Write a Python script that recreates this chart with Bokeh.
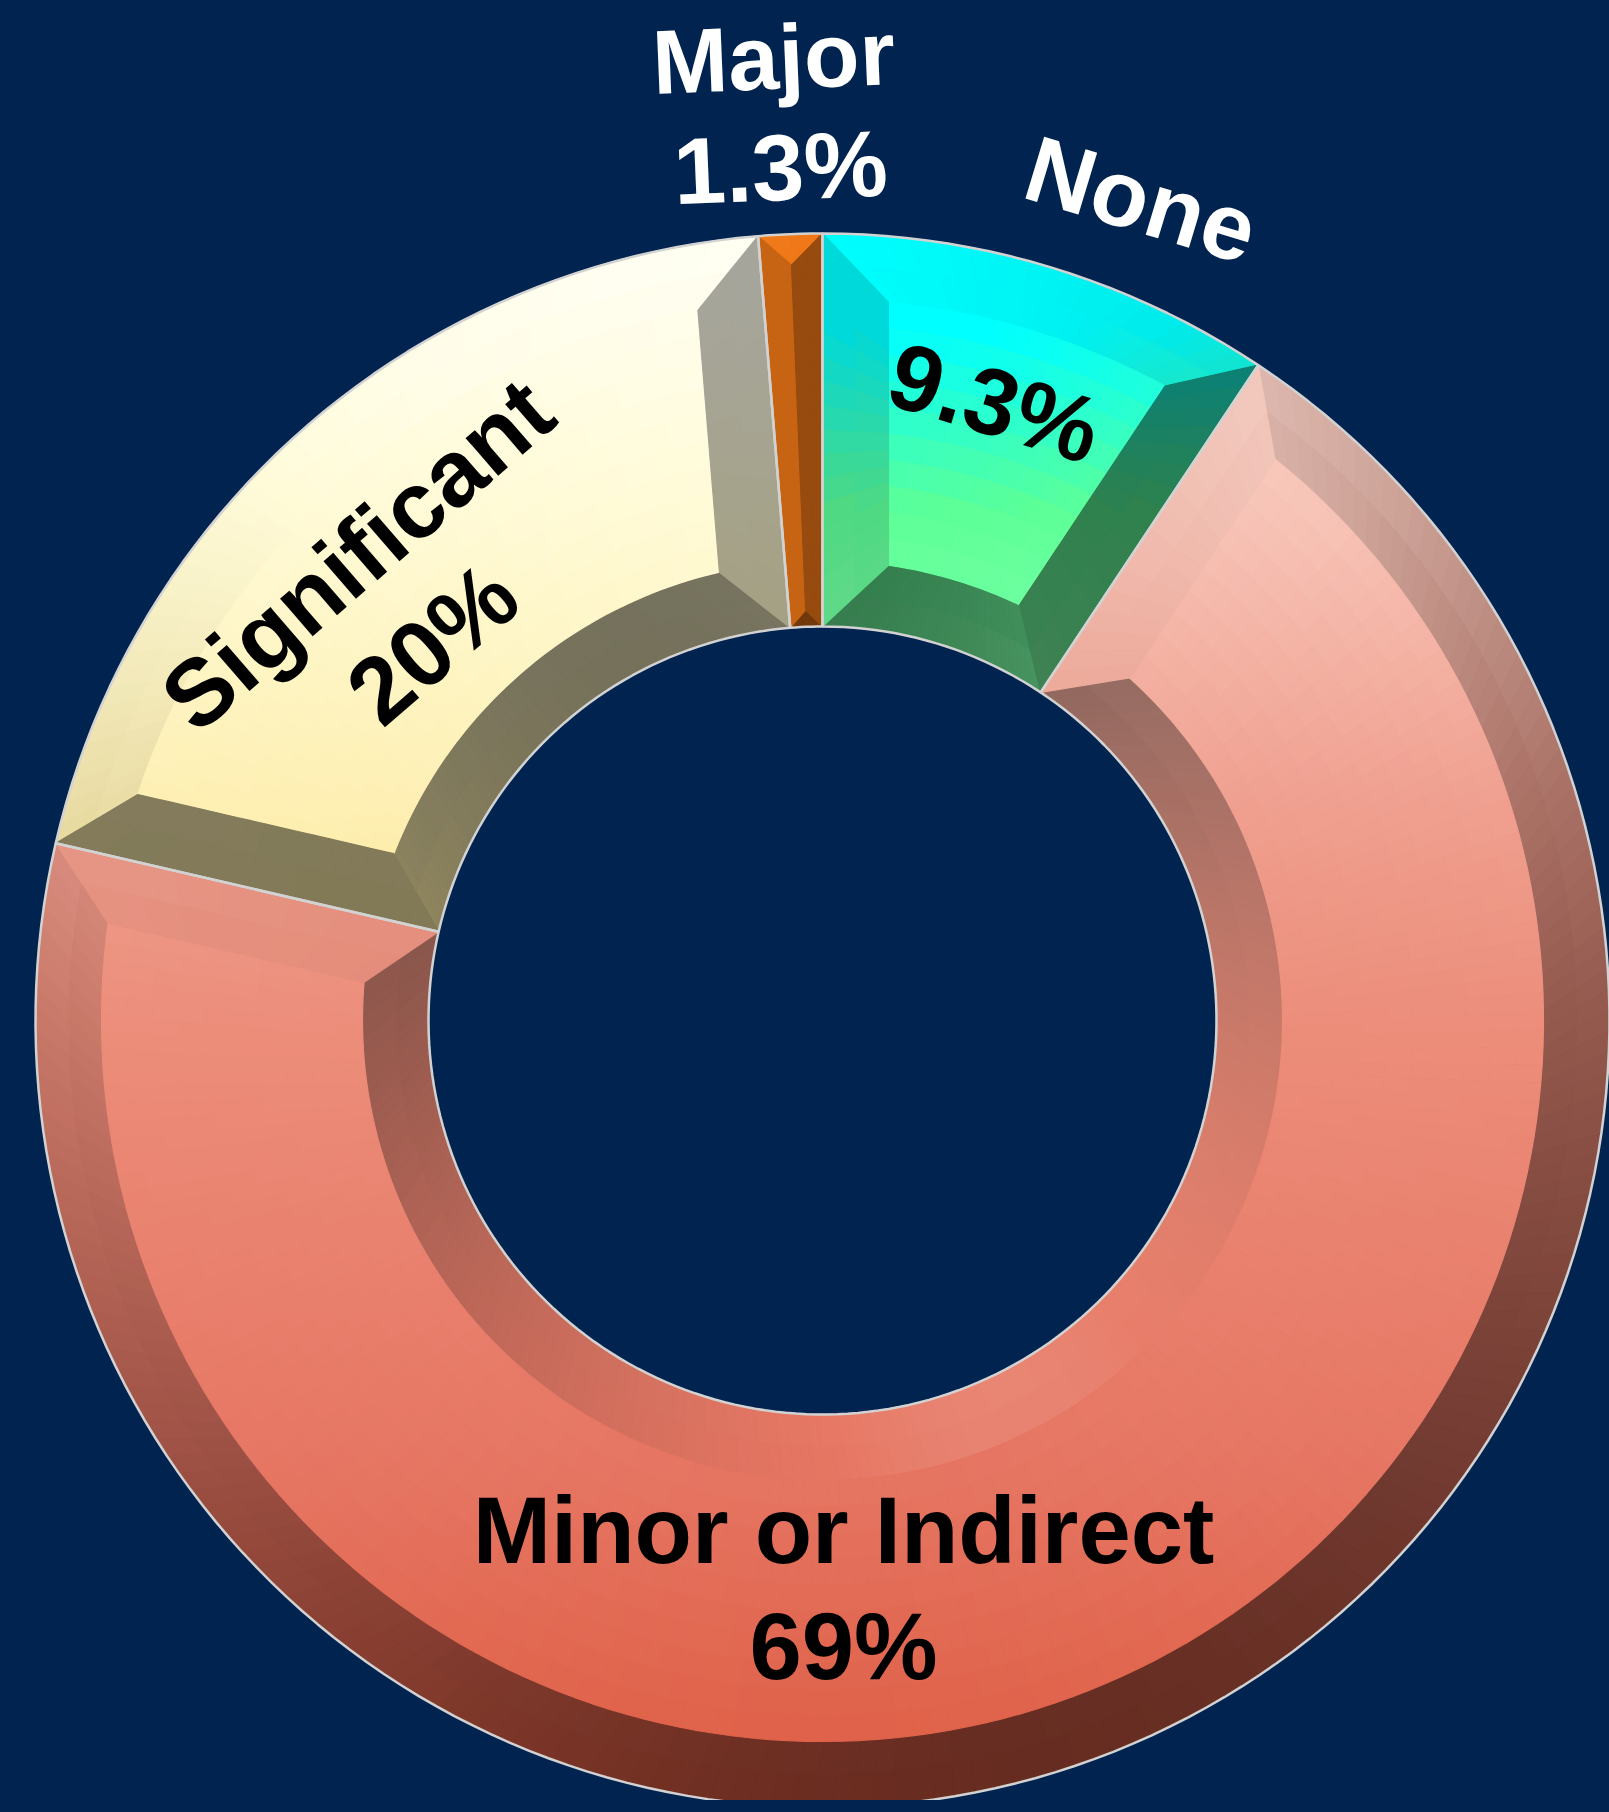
import numpy as np
from bokeh.plotting import figure
from bokeh.models import Range1d
from bokeh.embed import file_html
from bokeh.resources import INLINE
from bokeh.core.properties import value

# ---------------- data ----------------
categories = ["None", "Minor or Indirect", "Significant", "Major"]
shares = [9.3, 69.0, 20.0, 1.3]
pct_labels = ["9.3%", "69%", "20%", "1.3%"]

# face colour stops (page pixel y, colour) for each slice
face_stops = {
    "None": [(232, "#00FFFF"), (330, "#00FFFF"), (510, "#5CFF98"), (700, "#82FFA8")],
    "Minor or Indirect": [(300, "#FAD6CC"), (520, "#F7C3B6"), (800, "#F0A090"),
                          (1020, "#EC8E7B"), (1450, "#E67764"), (1810, "#DE5C42")],
    "Significant": [(230, "#FFFFF4"), (500, "#FFFBD8"), (930, "#FDEBA4")],
    "Major": [(0, "#F07818"), (2000, "#F07818")],
}

# ---------------- layout ----------------
PAGE_H = 1812
FIG_W, FIG_H = 1609, 1800
BG = "#002350"
CX, CY_PIX = 822.0, 1020.0
CY = PAGE_H - CY_PIX
R_OUT, R_IN, BEV = 787.0, 394.0, 66.0
LX, LY = -0.4, 0.92
ln = np.hypot(LX, LY)
LX, LY = LX / ln, LY / ln


def hex2rgb(h):
    h = h.lstrip("#")
    return np.array([int(h[i:i + 2], 16) for i in (0, 2, 4)], dtype=float)


def rgb2hex(c):
    c = np.clip(np.round(c), 0, 255).astype(int)
    return "#%02x%02x%02x" % tuple(c)


def face_color(name, ypix):
    st = face_stops[name]
    ys = [s[0] for s in st]
    cs = [hex2rgb(s[1]) for s in st]
    out = np.zeros(3)
    for k in range(3):
        out[k] = np.interp(ypix, ys, [c[k] for c in cs])
    return out


def shade(rgb, nx, ny):
    d = nx * LX + ny * LY
    f = 0.74 + 0.28 * d
    if f > 1.0:
        return rgb + (255 - rgb) * min(1.0, (f - 1.0) * 4)
    return rgb * f


def P(r, phi):
    return CX + r * np.sin(phi), CY + r * np.cos(phi)


p = figure(width=FIG_W, height=FIG_H, x_range=Range1d(0, FIG_W),
           y_range=Range1d(PAGE_H - FIG_H, PAGE_H),
           output_backend="svg", toolbar_location=None, min_border=0)
p.axis.visible = False
p.grid.visible = False
p.outline_line_color = None
p.background_fill_color = BG
p.border_fill_color = BG

xs_all, ys_all, col_all = [], [], []


def ruled(A, B, nt, ns, name, kind, nvec=None):
    t = np.linspace(0, 1, nt + 1)
    s = np.linspace(0, 1, ns + 1)
    Ax, Ay = A(t)
    Bx, By = B(t)
    X = Ax[:, None] * (1 - s) + Bx[:, None] * s
    Y = Ay[:, None] * (1 - s) + By[:, None] * s
    for i in range(nt):
        for j in range(ns):
            qx = [X[i, j], X[i + 1, j], X[i + 1, j + 1], X[i, j + 1]]
            qy = [Y[i, j], Y[i + 1, j], Y[i + 1, j + 1], Y[i, j + 1]]
            mx, my = np.mean(qx), np.mean(qy)
            base = face_color(name, PAGE_H - my)
            if kind == "face":
                c = base
            else:
                if kind == "outer":
                    ph = np.arctan2(mx - CX, my - CY)
                    nx, ny = np.sin(ph), np.cos(ph)
                elif kind == "inner":
                    ph = np.arctan2(mx - CX, my - CY)
                    nx, ny = -np.sin(ph), -np.cos(ph)
                else:
                    nx, ny = nvec
                c = shade(base, nx, ny)
            xs_all.append(qx)
            ys_all.append(qy)
            col_all.append(rgb2hex(c))


def lin(p0, p1):
    def f(t):
        return p0[0] + (p1[0] - p0[0]) * t, p0[1] + (p1[1] - p0[1]) * t
    return f


total = sum(shares)
bounds = np.concatenate([[0], np.cumsum(shares)]) / total * 2 * np.pi
outlines_x, outlines_y = [], []

for k, name in enumerate(categories):
    f0, f1 = bounds[k], bounds[k + 1]
    D = f1 - f0
    nt = max(6, int(np.degrees(D) / 1.5))
    ro_f, ri_f = R_OUT - BEV, R_IN + BEV
    do = np.arcsin(BEV / ro_f)
    di = np.arcsin(BEV / ri_f)
    if D > 2 * di:
        ruled(lambda t: P(R_OUT, f0 + t * D),
              lambda t: P(ro_f, f0 + do + t * (D - 2 * do)), nt, 2, name, "outer")
        ruled(lambda t: P(R_IN, f0 + t * D),
              lambda t: P(ri_f, f0 + di + t * (D - 2 * di)), nt, 2, name, "inner")
        ruled(lambda t: P(ro_f, f0 + do + t * (D - 2 * do)),
              lambda t: P(ri_f, f0 + di + t * (D - 2 * di)), nt, 10, name, "face")
        sa0, sa1 = P(R_OUT, f0), P(R_IN, f0)
        sb0, sb1 = P(ro_f, f0 + do), P(ri_f, f0 + di)
        ea0, ea1 = P(R_OUT, f1), P(R_IN, f1)
        eb0, eb1 = P(ro_f, f1 - do), P(ri_f, f1 - di)
    else:
        h = np.sin(D / 2)
        fm = (f0 + f1) / 2
        apo = P(R_OUT / (1 + h), fm)
        api = P(R_IN / (1 - h), fm)
        ruled(lambda t: P(R_OUT, f0 + t * D), lambda t: (apo[0] + 0 * t, apo[1] + 0 * t),
              6, 2, name, "outer")
        ruled(lambda t: P(R_IN, f0 + t * D), lambda t: (api[0] + 0 * t, api[1] + 0 * t),
              6, 2, name, "inner")
        sa0, sa1 = P(R_OUT, f0), P(R_IN, f0)
        sb0, sb1 = apo, api
        ea0, ea1 = P(R_OUT, f1), P(R_IN, f1)
        eb0, eb1 = apo, api
    ruled(lin(sa0, sa1), lin(sb0, sb1), 16, 2, name, "side",
          (-np.cos(f0), np.sin(f0)))
    ruled(lin(ea0, ea1), lin(eb0, eb1), 16, 2, name, "side",
          (np.cos(f1), -np.sin(f1)))
    ph_o = np.linspace(f0, f1, nt + 1)
    ox, oy = P(R_OUT, ph_o)
    ix, iy = P(R_IN, ph_o[::-1])
    outlines_x.append(list(ox) + list(ix))
    outlines_y.append(list(oy) + list(iy))

p.patches(xs_all, ys_all, fill_color=col_all, line_color=col_all, line_width=1.2)
p.patches(outlines_x, outlines_y, fill_alpha=0, line_color="#D2D2D2", line_width=2.5)

# ---------------- labels ----------------
mid_deg = [np.degrees((bounds[k] + bounds[k + 1]) / 2) for k in range(4)]
FONT = value("Liberation Sans")


def label(x_pix, y_pix, txt, color, ang, size="94px"):
    p.text(x=[x_pix], y=[PAGE_H - y_pix], text=[txt], angle=ang, angle_units="deg",
           text_font=FONT, text_font_size=value(size), text_font_style="bold",
           text_color=color, text_align="center", text_baseline="middle")


# Major (outside, white)
a_major = -mid_deg[3] + 360
label(773, 57, categories[3], "white", a_major, "91px")
label(780, 167, pct_labels[3], "white", a_major)
# None
a_none = -mid_deg[0]
label(1141, 199, categories[0], "white", a_none)
label(994, 402, pct_labels[0], "black", a_none)
# Significant
a_sig = -mid_deg[2] + 360
label(357, 554, categories[2], "black", a_sig)
label(432, 643, pct_labels[2], "black", a_sig)
# Minor
label(843, 1530, categories[1], "black", 0)
label(843, 1646, pct_labels[1], "black", 0)

html = file_html(p, INLINE)
html = html.replace("<head>", "<head><style>html,body{background-color:%s;}</style>" % BG, 1)
open("out.html", "w").write(html)
